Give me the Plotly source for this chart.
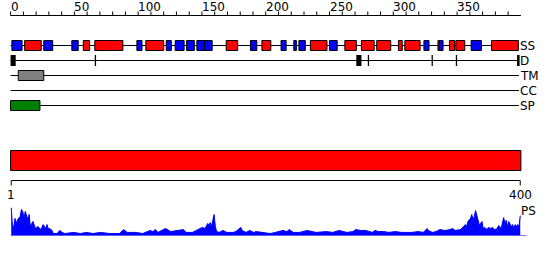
import plotly.graph_objects as go

# ---------------- data ----------------
seq_length = 400

# secondary structure (H = helix, red; E = strand, blue)
ss_start = [2, 12, 27, 49, 58, 67, 100, 107, 123, 130, 139, 147, 153, 170, 189, 198, 213,
            223, 227, 236, 251, 263, 276, 288, 305, 310, 325, 336, 337, 345, 350, 362, 378]
ss_end = [9, 24, 33, 53, 62, 88, 103, 120, 126, 136, 144, 152, 158, 178, 193, 204, 216,
          224, 231, 248, 256, 271, 285, 298, 307, 321, 328, 336, 339, 348, 356, 369, 398]
ss_type = ["E", "H", "E", "E", "H", "H", "E", "H", "E", "E", "E", "E", "E", "H", "E", "H", "E",
           "E", "E", "H", "E", "H", "H", "H", "H", "H", "E", "H", "E", "H", "H", "E", "H"]

# disorder
dis_start = [1, 67, 272, 281, 331, 350, 398]
dis_end = [4, 67, 275, 281, 331, 350, 399]

# transmembrane
tm_start = [7]
tm_end = [26]

# coiled coil (none)
cc_start = []
cc_end = []

# signal peptide
sp_start = [1]
sp_end = [23]

track_names = ["SS", "D", "TM", "CC", "SP"]

# domain bar
domain_start = [1]
domain_end = [400]

top_tick_labels = [0, 50, 100, 150, 200, 250, 300, 350]
bottom_tick_labels = [1, 400]

# PS profile
ps_residue = [1, 2, 3, 4, 5, 6, 8, 9, 10, 11,
              12, 14, 15, 16, 18, 19, 20, 22, 24, 25,
              26, 28, 29, 30, 31, 33, 34, 37, 39, 41,
              43, 50, 55, 60, 65, 71, 78, 86, 89, 92,
              99, 104, 110, 112, 114, 116, 122, 126, 131, 136,
              138, 143, 149, 151, 153, 155, 156, 157, 158, 159,
              160, 161, 162, 164, 167, 170, 172, 175, 177, 181,
              182, 185, 188, 191, 193, 197, 201, 204, 208, 211,
              214, 217, 219, 222, 227, 233, 240, 248, 253, 258,
              264, 269, 271, 275, 279, 284, 286, 289, 293, 297,
              302, 307, 315, 320, 324, 327, 328, 331, 334, 337,
              341, 345, 347, 349, 353, 355, 357, 358, 359, 361,
              362, 363, 364, 365, 367, 368, 370, 371, 372, 374,
              375, 377, 378, 380, 382, 383, 385, 387, 388, 389,
              390, 391, 393, 394, 395, 396, 397, 398, 399, 400]
ps_score = [1.0, 0.32, 0.32, 0.61, 0.43, 0.57, 0.68, 0.93, 0.86, 0.61,
            0.86, 0.57, 0.75, 0.32, 0.5, 0.39, 0.25, 0.32, 0.21, 0.29,
            0.39, 0.25, 0.39, 0.25, 0.25, 0.18, 0.07, 0.07, 0.18, 0.11,
            0.07, 0.11, 0.07, 0.11, 0.07, 0.11, 0.07, 0.07, 0.21, 0.11,
            0.11, 0.07, 0.18, 0.14, 0.21, 0.11, 0.25, 0.14, 0.18, 0.21,
            0.11, 0.11, 0.25, 0.29, 0.25, 0.43, 0.36, 0.46, 0.32, 0.61,
            0.75, 0.32, 0.14, 0.11, 0.18, 0.11, 0.11, 0.11, 0.14, 0.29,
            0.18, 0.11, 0.18, 0.11, 0.14, 0.11, 0.07, 0.07, 0.11, 0.14,
            0.18, 0.14, 0.21, 0.11, 0.11, 0.18, 0.11, 0.14, 0.11, 0.18,
            0.11, 0.14, 0.21, 0.18, 0.18, 0.11, 0.18, 0.14, 0.14, 0.11,
            0.14, 0.11, 0.11, 0.14, 0.11, 0.25, 0.18, 0.11, 0.14, 0.21,
            0.18, 0.21, 0.25, 0.18, 0.21, 0.29, 0.39, 0.32, 0.5, 0.61,
            0.75, 0.57, 0.68, 0.89, 0.57, 0.36, 0.5, 0.25, 0.29, 0.21,
            0.29, 0.25, 0.29, 0.21, 0.25, 0.36, 0.25, 0.64, 0.43, 0.54,
            0.32, 0.5, 0.32, 0.39, 0.25, 0.39, 0.32, 0.39, 0.32, 0.71]

# ---------------- layout / styling ----------------
W, H = 550, 260
X0_PX = 10.6          # pixel of axis value 0
PX_PER_RES = 1.2757
XMIN = -X0_PX / PX_PER_RES
XMAX = (W - X0_PX) / PX_PER_RES

FONT = dict(family="DejaVu Sans", size=12, color="black")
track_y = {"SS": 45.5, "D": 60.5, "TM": 75.5, "CC": 90.5, "SP": 105.5}
ss_colors = {"H": "#FF0000", "E": "#0000FF"}
line_end = 398.5

shapes = []


def hline(x0, x1, y, color="black", width=1, yref="y"):
    shapes.append(dict(type="line", xref="x", yref=yref, x0=x0, x1=x1, y0=y, y1=y,
                       line=dict(color=color, width=width), layer="above"))


def vline(x, y0, y1, color="black", width=1):
    shapes.append(dict(type="line", xref="x", yref="y", x0=x, x1=x, y0=y0, y1=y1,
                       line=dict(color=color, width=width), layer="above"))


def box(s, e, y0, y1, fill, border=True):
    shapes.append(dict(type="rect", xref="x", yref="y", x0=s - 1, x1=e, y0=y0, y1=y1,
                       fillcolor=fill,
                       line=dict(color="black", width=1 if border else 0),
                       layer="above"))


# top axis
hline(0, seq_length, 15.5)
for t in range(0, seq_length, 10):
    vline(t, 11.5, 15.5)

# track base lines
for name in track_names:
    hline(0, line_end, track_y[name])

# SS boxes
for s, e, t in zip(ss_start, ss_end, ss_type):
    box(s, e, 40.5, 50.5, ss_colors[t])

# disorder marks
for s, e in zip(dis_start, dis_end):
    box(s, e, 55, 66, "black", border=False)

# TM
for s, e in zip(tm_start, tm_end):
    box(s, e, 70.5, 80.5, "#808080")

# CC
for s, e in zip(cc_start, cc_end):
    box(s, e, 85.5, 95.5, "#FFFF00")

# SP
for s, e in zip(sp_start, sp_end):
    box(s, e, 100.5, 110.5, "#008000")

# domain bar
for s, e in zip(domain_start, domain_end):
    box(s, e, 150.5, 170.5, "#FF0000")

# bottom axis
hline(bottom_tick_labels[0] - 0.5, bottom_tick_labels[-1] - 0.5, 180.5)
for t in bottom_tick_labels:
    vline(t - 0.5, 180.5, 185.5)

# PS baseline
hline(0, 404.6, 0, color="#0000FF", width=1, yref="y2")

annotations = []
for t in top_tick_labels:
    annotations.append(dict(x=t, y=6.5, xref="x", yref="y", text=str(t), showarrow=False,
                            xanchor="left", yanchor="middle", xshift=-2, font=FONT))
for name in track_names:
    annotations.append(dict(x=line_end, y=track_y[name], xref="x", yref="y", text=name,
                            showarrow=False, xanchor="left", yanchor="middle", xshift=-1,
                            font=FONT))
for t in bottom_tick_labels:
    annotations.append(dict(x=t - 0.5, y=195, xref="x", yref="y", text=str(t),
                            showarrow=False, xanchor="center", yanchor="middle", font=FONT))
annotations.append(dict(x=line_end, y=211, xref="x", yref="y", text="PS", showarrow=False,
                        xanchor="left", yanchor="middle", xshift=0, font=FONT))

fig = go.Figure()
fig.add_trace(go.Scatter(
    x=[r - 0.5 for r in ps_residue], y=ps_score, mode="lines",
    line=dict(color="#0000FF", width=1), fill="tozeroy", fillcolor="#0000FF",
    xaxis="x", yaxis="y2", hoverinfo="skip", showlegend=False))

fig.update_layout(
    width=W, height=H, autosize=False,
    margin=dict(l=0, r=0, t=0, b=0, pad=0),
    paper_bgcolor="white", plot_bgcolor="rgba(0,0,0,0)",
    xaxis=dict(range=[XMIN, XMAX], visible=False, fixedrange=True, domain=[0, 1]),
    yaxis=dict(range=[H, 0], visible=False, fixedrange=True, domain=[0, 1]),
    yaxis2=dict(range=[0, 1], visible=False, fixedrange=True,
                domain=[(H - 235.5) / H, (H - 207.5) / H], anchor="x"),
    shapes=shapes, annotations=annotations, showlegend=False,
)

fig.write_html("out.html")
